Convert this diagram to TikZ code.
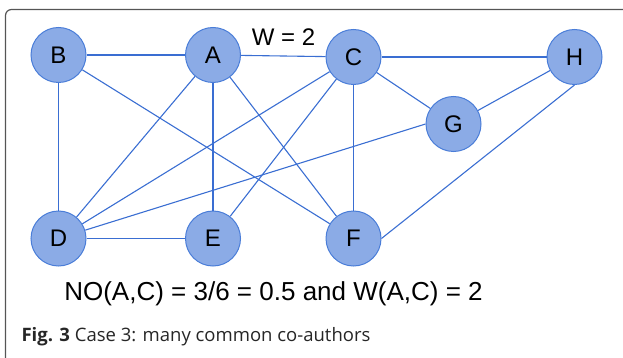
\documentclass[tikz,border=0pt]{standalone}
\usepackage{fontspec}
\setmainfont{Liberation Sans}
\newfontfamily\capfont{Open Sans}
\definecolor{nodefill}{HTML}{8BABE6}
\definecolor{nodeedge}{HTML}{4A7DD8}
\definecolor{edgecol}{HTML}{3A6ED2}
\definecolor{framecol}{HTML}{555555}
\begin{document}
\begin{tikzpicture}[x=1pt,y=-1pt,
  vertex/.style={circle,draw=nodeedge,fill=nodefill,line width=1pt,minimum size=55pt,inner sep=0pt,font=\fontsize{24}{26}\selectfont},
  link/.style={draw=edgecol,line width=1.1pt}]
\useasboundingbox (0,0) rectangle (623,358);
\draw[framecol,line width=1.2pt,rounded corners=6pt] (5.5,358) -- (5.5,9.5) -- (623,9.5);
\node[vertex] (B) at (58.5,55) {B};
\node[vertex] (A) at (213,55) {A};
\node[vertex] (C) at (353.5,57) {C};
\node[vertex] (H) at (574.5,57) {H};
\node[vertex] (G) at (453.5,124) {G};
\node[vertex] (D) at (58.5,238.5) {D};
\node[vertex] (E) at (213,238.5) {E};
\node[vertex] (F) at (353.5,238.5) {F};
\path[link] (B) -- (A);
\path[link] (A) -- (C);
\path[link] (C) -- (H);
\path[link] (C) -- (G);
\path[link] (G) -- (H);
\path[link] (B) -- (D);
\path[link] (B) -- (F);
\path[link] (A) -- (D);
\path[link] (A) -- (E);
\path[link] (A) -- (F);
\path[link] (C) -- (D);
\path[link] (C) -- (E);
\path[link] (C) -- (F);
\path[link] (G.west) -- (D);
\path[link] (D) -- (E);
\path[link] (F.east) -- (H.south);
\node[font=\fontsize{24}{26}\selectfont] (W) at (283.5,37) {W = 2};
\node[font=\fontsize{26}{28}\selectfont] (NO) at (273.5,294) {NO(A,C) = 3/6 = 0.5 and W(A,C) = 2};
\node[anchor=west,font=\capfont\fontsize{18.5}{20}\selectfont,text=black!85] (cap) at (18,336.5) {\textbf{Fig. 3} Case 3: many common co-authors};
\end{tikzpicture}
\end{document}
